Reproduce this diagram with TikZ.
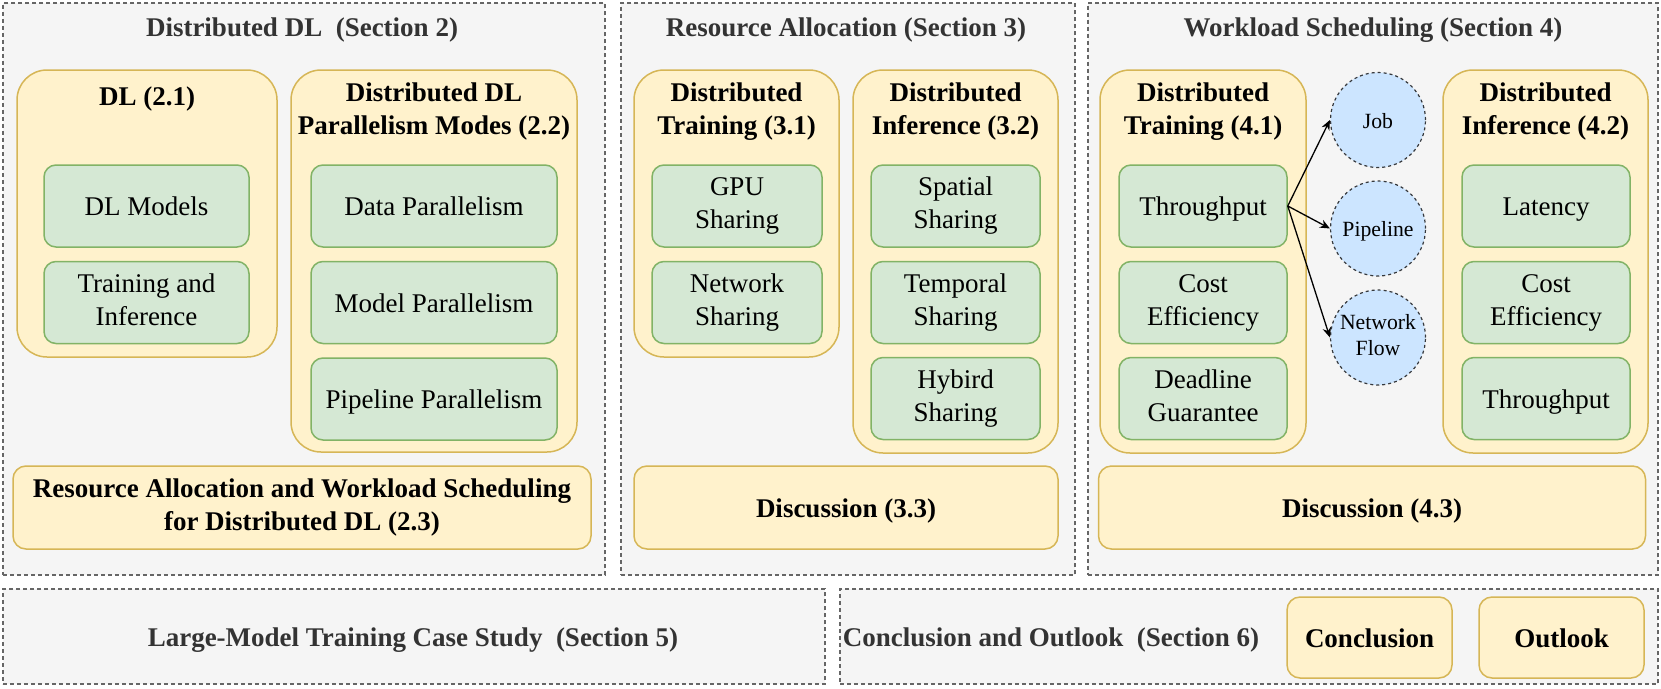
\documentclass[tikz,border=0pt]{standalone}
\usepackage{fontspec}
\setmainfont{Liberation Serif}
\usetikzlibrary{arrows.meta}
\definecolor{secfill}{HTML}{F5F5F5}
\definecolor{secdraw}{HTML}{666666}
\definecolor{sectext}{HTML}{333333}
\definecolor{yfill}{HTML}{FFF2CC}
\definecolor{ydraw}{HTML}{D6B656}
\definecolor{gfill}{HTML}{D5E8D4}
\definecolor{gdraw}{HTML}{82B366}
\definecolor{bfill}{HTML}{CCE5FF}
\definecolor{bdraw}{HTML}{36393D}
\newcommand{\lnstrut}{\rule[-0.2em]{0pt}{1.14em}}
\begin{document}
\begin{tikzpicture}[x=1pt,y=-1pt,
  base/.style={font=\fontsize{27}{33}\selectfont, align=center, inner sep=0pt, execute at begin node={\lnstrut}},
  secbox/.style={draw=secdraw, fill=secfill, line width=1.3pt, dash pattern=on 4pt off 3pt, inner sep=0pt},
  sectitle/.style={base, text=sectext, font=\fontsize{27}{33}\selectfont\bfseries},
  ybox/.style={draw=ydraw, fill=yfill, line width=1.5pt, rounded corners=30pt, inner sep=0pt},
  yflat/.style={base, draw=ydraw, fill=yfill, line width=1.5pt, rounded corners=13pt, font=\fontsize{27}{33}\selectfont\bfseries},
  ytitle/.style={base, font=\fontsize{27}{33}\selectfont\bfseries},
  gbox/.style={base, draw=gdraw, fill=gfill, line width=1.5pt, rounded corners=12pt, minimum height=82pt},
  circ/.style={circle, draw=bdraw, fill=bfill, dashed, line width=1.2pt, minimum size=95pt, font=\fontsize{21.7}{26}\selectfont, align=center, inner sep=0pt, execute at begin node={\lnstrut}},
  arr/.style={-{Stealth[length=10pt,width=8.5pt]}, line width=1.3pt, black}
]
\useasboundingbox (0,0) rectangle (1661,688);

% sections
\node[secbox, minimum width=602pt, minimum height=572pt] (sec2) at (304,289) {};
\node[secbox, minimum width=454pt, minimum height=572pt] (sec3) at (848,289) {};
\node[secbox, minimum width=570pt, minimum height=572pt] (sec4) at (1373,289) {};
\node[secbox, minimum width=822pt, minimum height=95pt] (sec5) at (414,636.5) {};
\node[secbox, minimum width=818pt, minimum height=95pt] (sec6) at (1249,636.5) {};

\node[sectitle] (sec2t) at (302,26.7) {Distributed DL~~(Section 2)};
\node[sectitle] (sec3t) at (846,26.7) {Resource Allocation (Section 3)};
\node[sectitle] (sec4t) at (1373,26.7) {Workload Scheduling (Section 4)};
\node[sectitle] (sec5t) at (413,636.7) {Large-Model Training Case Study~~(Section 5)};
\node[sectitle] (sec6t) at (1051,636.7) {Conclusion and Outlook~~(Section 6)};

% section 2
\node[ybox, minimum width=260pt, minimum height=287pt] (y21) at (147,213.5) {};
\node[ytitle] (y21t) at (147,96) {DL (2.1)};
\node[gbox, minimum width=205pt] (g211) at (146.5,206) {DL Models};
\node[gbox, minimum width=205pt] (g212) at (146.5,302.5) {Training and\\\lnstrut Inference};

\node[ybox, minimum width=286pt, minimum height=382pt] (y22) at (434,261) {};
\node[ytitle] (y22t) at (434,111.3) {Distributed DL\\\lnstrut Parallelism Modes (2.2)};
\node[gbox, minimum width=246pt] (g221) at (434,206) {Data Parallelism};
\node[gbox, minimum width=246pt] (g222) at (434,302.5) {Model Parallelism};
\node[gbox, minimum width=246pt] (g223) at (434,399) {Pipeline Parallelism};

\node[yflat, minimum width=578pt, minimum height=83pt] (y23) at (302,507.5) {Resource Allocation and Workload Scheduling\\\lnstrut for Distributed DL (2.3)};

% section 3
\node[ybox, minimum width=205pt, minimum height=287pt] (y31) at (736.5,213.5) {};
\node[ytitle] (y31t) at (736.5,111.3) {Distributed\\\lnstrut Training (3.1)};
\node[gbox, minimum width=170pt] (g311) at (737,206) {GPU\\\lnstrut Sharing};
\node[gbox, minimum width=170pt] (g312) at (737,302.5) {Network\\\lnstrut Sharing};

\node[ybox, minimum width=205pt, minimum height=383pt] (y32) at (955.5,261.5) {};
\node[ytitle] (y32t) at (955.5,111.3) {Distributed\\\lnstrut Inference (3.2)};
\node[gbox, minimum width=169pt] (g321) at (955.5,206) {Spatial\\\lnstrut Sharing};
\node[gbox, minimum width=169pt] (g322) at (955.5,302.5) {Temporal\\\lnstrut Sharing};
\node[gbox, minimum width=169pt] (g323) at (955.5,398.5) {Hybird\\\lnstrut Sharing};

\node[yflat, minimum width=424pt, minimum height=83pt] (y33) at (846,507.5) {Discussion (3.3)};

% section 4
\node[ybox, minimum width=206pt, minimum height=383pt] (y41) at (1203,261.5) {};
\node[ytitle] (y41t) at (1203,111.3) {Distributed\\\lnstrut Training (4.1)};
\node[gbox, minimum width=168pt] (g411) at (1203,206) {Throughput};
\node[gbox, minimum width=168pt] (g412) at (1203,302.5) {Cost\\\lnstrut Efficiency};
\node[gbox, minimum width=168pt] (g413) at (1203,398.5) {Deadline\\\lnstrut Guarantee};

\node[ybox, minimum width=205pt, minimum height=383pt] (y42) at (1545.5,261.5) {};
\node[ytitle] (y42t) at (1545.5,111.3) {Distributed\\\lnstrut Inference (4.2)};
\node[gbox, minimum width=168pt] (g421) at (1546,206) {Latency};
\node[gbox, minimum width=168pt] (g422) at (1546,302.5) {Cost\\\lnstrut Efficiency};
\node[gbox, minimum width=168pt] (g423) at (1546,398.5) {Throughput};

\node[circ] (job) at (1378,120) {Job};
\node[circ] (pipe) at (1378,228.5) {Pipeline};
\node[circ] (flow) at (1378,337.5) {Network\\\lnstrut Flow};

\draw[arr] (g411.east) -- (job.west);
\draw[arr] (g411.east) -- (pipe.west);
\draw[arr] (g411.east) -- (flow.west);

\node[yflat, minimum width=547pt, minimum height=83pt] (y43) at (1372,507.5) {Discussion (4.3)};

% section 6
\node[yflat, minimum width=165pt, minimum height=81pt] (concl) at (1369.5,637.5) {Conclusion};
\node[yflat, minimum width=165pt, minimum height=81pt] (outl) at (1561.5,637.5) {Outlook};
\end{tikzpicture}
\end{document}
